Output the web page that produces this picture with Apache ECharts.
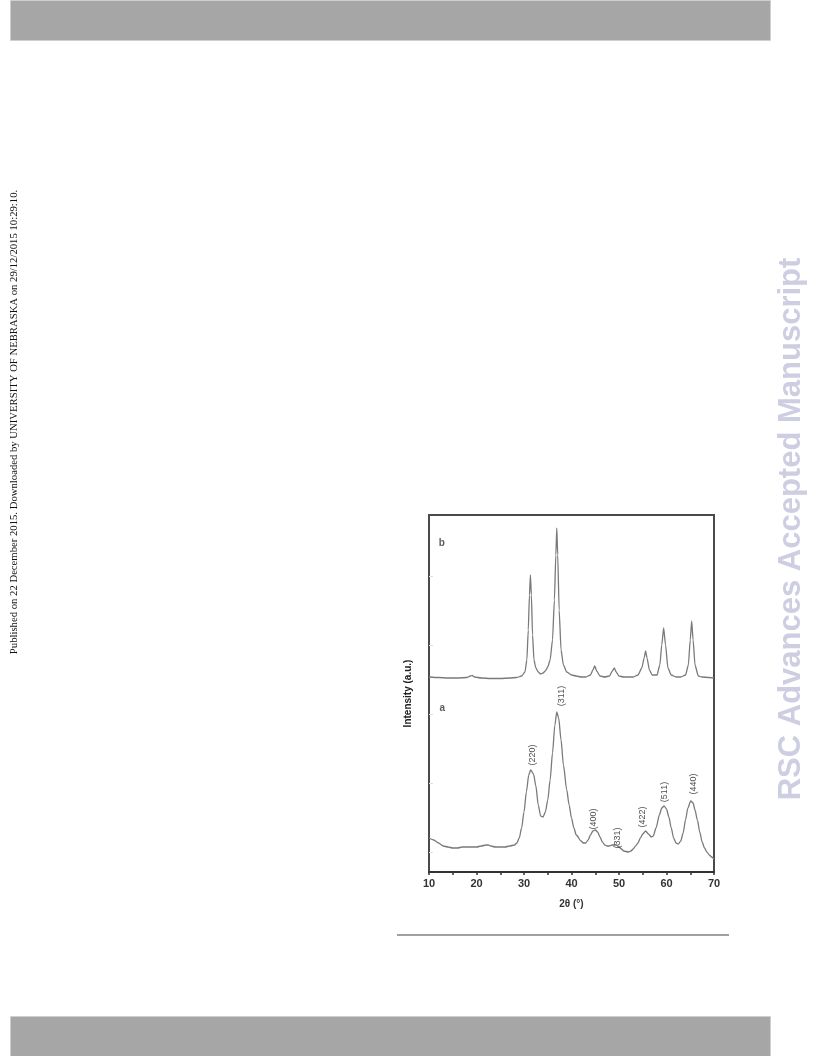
<!DOCTYPE html>
<html>
<head>
<meta charset="utf-8">
<script src="https://cdn.jsdelivr.net/npm/echarts@6/dist/echarts.min.js"></script>
<style>
html,body{margin:0;padding:0;background:#fff;}
#chart{width:816px;height:1056px;}
</style>
</head>
<body>
<div id="chart"></div>
<script>
// 2θ positions (degrees) and intensities (a.u., arbitrary offset units)
const xA = [10,11,12,13,14,15,16,17,18,19,20,21,22,22.5,23,24,25,26,27,28,28.5,29,29.5,30,30.5,31,31.4,32,32.5,33,33.5,34,34.5,35,35.5,36,36.5,36.9,37.3,37.8,38.3,39,39.5,40,40.5,41,42,42.5,43,43.5,44,44.5,45,45.5,46,46.5,47,47.5,48,48.5,49,49.5,50,50.5,51,52,52.5,53,53.5,54,54.5,55,55.6,56.2,56.8,57.2,57.8,58.5,59,59.5,60,60.5,61,61.5,62,62.5,63,63.5,64,64.5,65.1,65.6,66,66.5,67,67.5,68,68.5,69,69.5,70];
const yA = [14,12,9,6,5,4,4,5,5,5,5,6,7,7,6,5,5,5,6,7,9,14,24,40,60,77,82,78,66,47,36,35,40,52,72,99,127,140,134,112,87,62,47,34,24,17,11,9,9,12,17,21,22,20,15,10,7,6,6,7,7,7,5,3,1,0,1,3,6,9,14,18,21,18,15,16,24,37,44,46,43,35,24,14,9,8,11,19,32,44,51,49,42,32,20,10,4,0,-3,-5,-7];

const xB = [10,12,14,16,18,18.7,19.1,19.6,21,23,25,27,28.5,29.5,30.2,30.6,30.9,31.15,31.35,31.55,31.8,32.1,32.5,33,33.5,34,34.5,35,35.5,36,36.4,36.7,36.9,37.1,37.4,37.8,38.3,39,40,41,42,43,44,44.5,44.9,45.3,46,47,48,48.6,49.0,49.4,50,51,52,53,54,54.8,55.3,55.6,55.9,56.4,57,58,58.6,59.0,59.4,59.8,60.3,61,62,63,64,64.6,65.0,65.3,65.6,66,66.7,67.5,69,70];
const yB = [175,174.5,174,174,174.5,176,176.5,175,174,173.5,173.5,174,174.5,176,180,192,222,257,277,257,217,192,184,180,178,179,181,185,192,212,252,297,324,297,242,202,187,180,177,176,175,175,177,182,186,181,176,175,176,181,184,180,176,175,175,175,177,184,194,201,194,182,177,177,187,207,224,207,184,177,175,175,177,187,212,231,212,187,176,175,174.5,174];

// Miller-index labels
const hklNames = ['(220)','(311)','(400)','(331)','(422)','(511)','(440)'];
const hklX = [31.7,37.9,44.7,49.7,54.9,59.5,65.6];
const hklY = [97,156,33,14,35,60,68];

// sample tags
const tagNames = ['a','b'];
const tagX = [12.8,12.7];
const tagY = [144,309];

// axis ticks
const xTicks = [10,20,30,40,50,60,70];
const yTicks = [0,69,138,207,276];

const pair = (xs, ys) => xs.map((x, i) => [x, ys[i]]);

const chart = echarts.init(document.getElementById('chart'), null, {renderer:'canvas'});

const option = {
  backgroundColor: '#fff',
  animation: false,
  grid: {
    left: 429, right: 102, top: 515, bottom: 184,
    show: true, borderColor: '#4a4a4a', borderWidth: 2, backgroundColor: 'transparent'
  },
  xAxis: {
    type: 'value', min: 10, max: 70, interval: 5,
    name: '2θ (°)', nameLocation: 'middle', nameGap: 27,
    nameTextStyle: {fontFamily: 'Liberation Sans', fontWeight: 'bold', fontSize: 10, color: '#333'},
    axisLine: {show: true, onZero: false, lineStyle: {color: '#333', width: 2}},
    axisTick: {show: true, inside: false, length: 3, lineStyle: {color: '#333', width: 1.5}},
    axisLabel: {
      fontFamily: 'Liberation Sans', fontWeight: 'bold', fontSize: 11, color: '#333', margin: 6,
      formatter: v => xTicks.indexOf(v) >= 0 ? String(v) : ''
    },
    splitLine: {show: false}
  },
  yAxis: {
    type: 'value', min: -20, max: 337,
    name: 'Intensity (a.u.)', nameLocation: 'middle', nameGap: 16, nameRotate: 90,
    nameTextStyle: {fontFamily: 'Liberation Sans', fontWeight: 'bold', fontSize: 10, color: '#222'},
    axisLine: {show: true, onZero: false, lineStyle: {color: '#4a4a4a', width: 2}},
    axisTick: {show: true, inside: true, length: 4, customValues: yTicks, lineStyle: {color: '#e0e0e0', width: 1}},
    axisLabel: {show: false, customValues: yTicks},
    splitLine: {show: false}
  },
  series: [
    {
      name: 'a', type: 'line', data: pair(xA, yA), showSymbol: false, smooth: 0.25, smoothMonotone: 'x',
      lineStyle: {color: '#7a7a7a', width: 1.3}, z: 3
    },
    {
      name: 'b', type: 'line', data: pair(xB, yB), showSymbol: false, smooth: 0.2, smoothMonotone: 'x',
      lineStyle: {color: '#7a7a7a', width: 1.3}, z: 3
    },
    {
      name: 'hkl', type: 'scatter', symbolSize: 0,
      data: hklX.map((x, i) => ({value: [x, hklY[i]], name: hklNames[i]})),
      label: {
        show: true, position: 'inside', rotate: 90, formatter: p => p.name,
        fontFamily: 'Liberation Sans', fontSize: 9, color: '#222'
      },
      silent: true, z: 4
    },
    {
      name: 'tags', type: 'scatter', symbolSize: 0,
      data: tagX.map((x, i) => ({value: [x, tagY[i]], name: tagNames[i]})),
      label: {
        show: true, position: 'inside', formatter: p => p.name,
        fontFamily: 'Liberation Sans', fontWeight: 'bold', fontSize: 10, color: '#333'
      },
      silent: true, z: 4
    }
  ],
  graphic: [
    {type: 'rect', shape: {x: 10.5, y: 0.5, width: 760, height: 40}, style: {fill: '#a6a6a6', stroke: '#cfcfcf', lineWidth: 1}, silent: true},
    {type: 'rect', shape: {x: 10.5, y: 1016.5, width: 760, height: 40}, style: {fill: '#a6a6a6', stroke: '#cfcfcf', lineWidth: 1}, silent: true},
    {type: 'line', shape: {x1: 397, y1: 935, x2: 729, y2: 935}, style: {stroke: '#a0a0a0', lineWidth: 2}, silent: true},
    {
      type: 'text', x: 14, y: 422, rotation: Math.PI / 2, silent: true,
      style: {
        text: 'Published on 22 December 2015. Downloaded by UNIVERSITY OF NEBRASKA on 29/12/2015 10:29:10.',
        fontFamily: 'Liberation Serif', fontSize: 10.7, fill: '#111', align: 'center', verticalAlign: 'middle'
      }
    },
    {
      type: 'text', x: 791, y: 529, rotation: Math.PI / 2, silent: true,
      style: {
        text: 'RSC Advances Accepted Manuscript',
        fontFamily: 'Liberation Sans', fontWeight: 'bold', fontSize: 31, fill: '#cdcee2', align: 'center', verticalAlign: 'middle'
      }
    }
  ]
};
chart.setOption(option);
</script>
</body>
</html>
